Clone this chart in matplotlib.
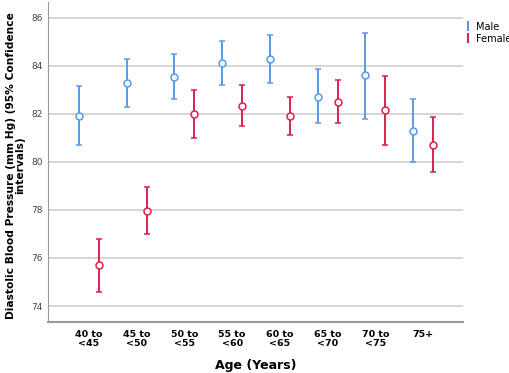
import matplotlib.pyplot as plt
from matplotlib.lines import Line2D
import numpy as np

# Age groups
age_groups = ['40 to\n<45', '45 to\n<50', '50 to\n<55', '55 to\n<60',
              '60 to\n<65', '65 to\n<70', '70 to\n<75', '75+']

# Male means and 95% CI bounds
male_mean = [81.9, 83.3, 83.55, 84.1, 84.3, 82.7, 83.6, 81.3]
male_low = [80.7, 82.3, 82.6, 83.2, 83.3, 81.6, 81.8, 80.0]
male_high = [83.15, 84.3, 84.5, 85.05, 85.3, 83.85, 85.38, 82.62]

# Female means and 95% CI bounds
female_mean = [75.7, 77.95, 82.0, 82.33, 81.92, 82.5, 82.15, 80.72]
female_low = [74.6, 77.0, 81.0, 81.5, 81.1, 81.6, 80.72, 79.57]
female_high = [76.8, 78.95, 83.0, 83.18, 82.72, 83.42, 83.58, 81.88]

male_color = '#5a9be6'
female_color = '#d9214e'

fig = plt.figure(figsize=(5.1, 3.73), dpi=100)
ax = fig.add_axes([0.094, 0.137, 0.814, 0.858])

x = np.arange(len(age_groups))
offset = 0.21

def draw(xs, mean, low, high, color, label):
    mean = np.array(mean)
    yerr = [mean - np.array(low), np.array(high) - mean]
    return ax.errorbar(xs, mean, yerr=yerr, fmt='o', color=color, mfc='white',
                       mec=color, ms=5, mew=1.1, elinewidth=1.4, capsize=2.5,
                       capthick=1.4, label=label, zorder=3)

draw(x - offset, male_mean, male_low, male_high, male_color, 'Male')
draw(x + offset, female_mean, female_low, female_high, female_color, 'Female')

ax.set_xlim(-0.86, 7.84)
ax.set_ylim(73.34, 86.66)
ax.set_yticks([74, 76, 78, 80, 82, 84, 86])
ax.set_xticks(x)
ax.set_xticklabels(age_groups, fontsize=6.8, fontweight='bold', linespacing=1.0)
ax.tick_params(axis='x', length=0, pad=6)
ax.tick_params(axis='y', length=0, labelsize=6.5, labelcolor='#444444', pad=4)
ax.grid(axis='y', color='#d0d0d0', lw=1.2, zorder=0)
ax.set_axisbelow(True)

for s in ['top', 'right']:
    ax.spines[s].set_visible(False)
ax.spines['left'].set_color('#999999')
ax.spines['bottom'].set_color('#999999')
ax.spines['bottom'].set_linewidth(1.5)

ax.set_ylabel('Diastolic Blood Pressure (mm Hg) (95% Confidence\nintervals)',
              fontsize=7.7, fontweight='bold', linespacing=0.95)
ax.yaxis.set_label_coords(-0.055, 0.49)
ax.set_xlabel('Age (Years)', fontsize=9, fontweight='bold')
ax.xaxis.set_label_coords(0.5, -0.115)

h = [Line2D([], [], color=male_color, marker='|', ls='none', ms=7, mew=1.5),
     Line2D([], [], color=female_color, marker='|', ls='none', ms=7, mew=1.5)]
ax.legend(h, ['Male', 'Female'], loc='upper left', bbox_to_anchor=(0.995, 0.95),
          frameon=False, fontsize=7, handlelength=0.6, handletextpad=0.5,
          labelspacing=0.2, borderaxespad=0)

fig.savefig('out.png', dpi=100)
